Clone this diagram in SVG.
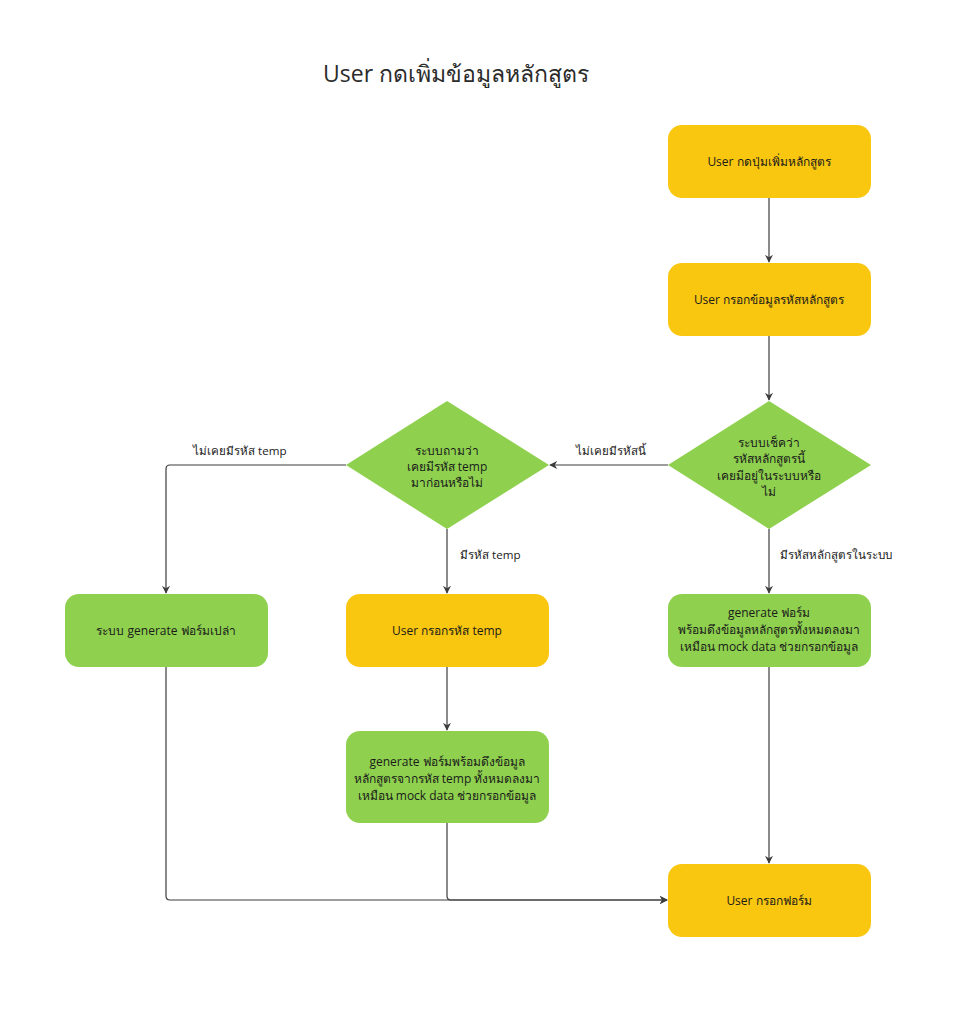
<svg xmlns="http://www.w3.org/2000/svg" width="969" height="1031" viewBox="0 0 969 1031">
<defs>
<style>
.y{fill:#FAC710;}
.g{fill:#8FD14F;}
.t{font-family:"Open Sans","Noto Sans","DejaVu Sans",sans-serif;font-size:12px;fill:#1a1a1a;text-anchor:middle;}
.l{font-family:"Open Sans","Noto Sans","DejaVu Sans",sans-serif;font-size:11.6px;fill:#1a1a1a;}
.c{fill:none;stroke:#3d3d3d;stroke-width:1.2;}
</style>
<marker id="ar" viewBox="0 0 10 10" refX="9" refY="5" markerWidth="8" markerHeight="8" orient="auto" markerUnits="userSpaceOnUse">
<path d="M0,0 L10,5 L0,10 L3,5 Z" fill="#3d3d3d"/>
</marker>
</defs>
<rect width="969" height="1031" fill="#ffffff"/>
<text x="456" y="82" font-family="'Open Sans','Noto Sans','DejaVu Sans',sans-serif" font-size="23" fill="#2b2b2b" text-anchor="middle">User กดเพิ่มข้อมูลหลักสูตร</text>

<g id="connectors">
<path class="c" d="M769,198 V262" marker-end="url(#ar)"/>
<path class="c" d="M769,336 V400" marker-end="url(#ar)"/>
<path class="c" d="M668,465 H550" marker-end="url(#ar)"/>
<path class="c" d="M769,529 V593" marker-end="url(#ar)"/>
<path class="c" d="M346,465 H170 Q166,465 166,469 V593" marker-end="url(#ar)"/>
<path class="c" d="M447,529 V593" marker-end="url(#ar)"/>
<path class="c" d="M447,667 V730" marker-end="url(#ar)"/>
<path class="c" d="M769,667 V863" marker-end="url(#ar)"/>
<path class="c" d="M166,667 V896 Q166,900 170,900 H667" marker-end="url(#ar)"/>
<path class="c" d="M447,823 V896 Q447,900 451,900 H667" marker-end="url(#ar)"/>
<text class="l" x="576" y="455">ไม่เคยมีรหัสนี้</text>
<text class="l" x="780" y="559">มีรหัสหลักสูตรในระบบ</text>
<text class="l" x="193" y="455">ไม่เคยมีรหัส temp</text>
<text class="l" x="460" y="559">มีรหัส temp</text>
</g>

<g id="n1">
<rect class="y" x="668" y="125" width="203" height="73" rx="14"/>
<text class="t" x="769" y="166">User กดปุ่มเพิ่มหลักสูตร</text>
</g>
<g id="n2">
<rect class="y" x="668" y="263" width="203" height="73" rx="14"/>
<text class="t" x="769" y="304">User กรอกข้อมูลรหัสหลักสูตร</text>
</g>
<g id="n3">
<polygon class="g" points="769,401 871,465 769,529 668,465"/>
<text class="t" x="769" y="447">ระบบเช็คว่า</text>
<text class="t" x="769" y="463">รหัสหลักสูตรนี้</text>
<text class="t" x="769" y="480">เคยมีอยู่ในระบบหรือ</text>
<text class="t" x="769" y="496">ไม่</text>
</g>
<g id="n4">
<polygon class="g" points="447,401 549,465 447,529 346,465"/>
<text class="t" x="447" y="455">ระบบถามว่า</text>
<text class="t" x="447" y="471">เคยมีรหัส temp</text>
<text class="t" x="447" y="487">มาก่อนหรือไม่</text>
</g>
<g id="n5">
<rect class="g" x="65" y="594" width="203" height="73" rx="14"/>
<text class="t" x="166" y="635">ระบบ generate ฟอร์มเปล่า</text>
</g>
<g id="n6">
<rect class="y" x="346" y="594" width="203" height="73" rx="14"/>
<text class="t" x="447" y="635">User กรอกรหัส temp</text>
</g>
<g id="n7">
<rect class="g" x="668" y="594" width="203" height="73" rx="14"/>
<text class="t" x="769" y="617">generate ฟอร์ม</text>
<text class="t" x="769" y="634">พร้อมดึงข้อมูลหลักสูตรทั้งหมดลงมา</text>
<text class="t" x="769" y="651">เหมือน mock data ช่วยกรอกข้อมูล</text>
</g>
<g id="n8">
<rect class="g" x="346" y="731" width="203" height="92" rx="14"/>
<text class="t" x="447" y="766">generate ฟอร์มพร้อมดึงข้อมูล</text>
<text class="t" x="447" y="783">หลักสูตรจากรหัส temp ทั้งหมดลงมา</text>
<text class="t" x="447" y="800">เหมือน mock data ช่วยกรอกข้อมูล</text>
</g>
<g id="n9">
<rect class="y" x="668" y="864" width="203" height="73" rx="14"/>
<text class="t" x="769" y="905">User กรอกฟอร์ม</text>
</g>
</svg>
